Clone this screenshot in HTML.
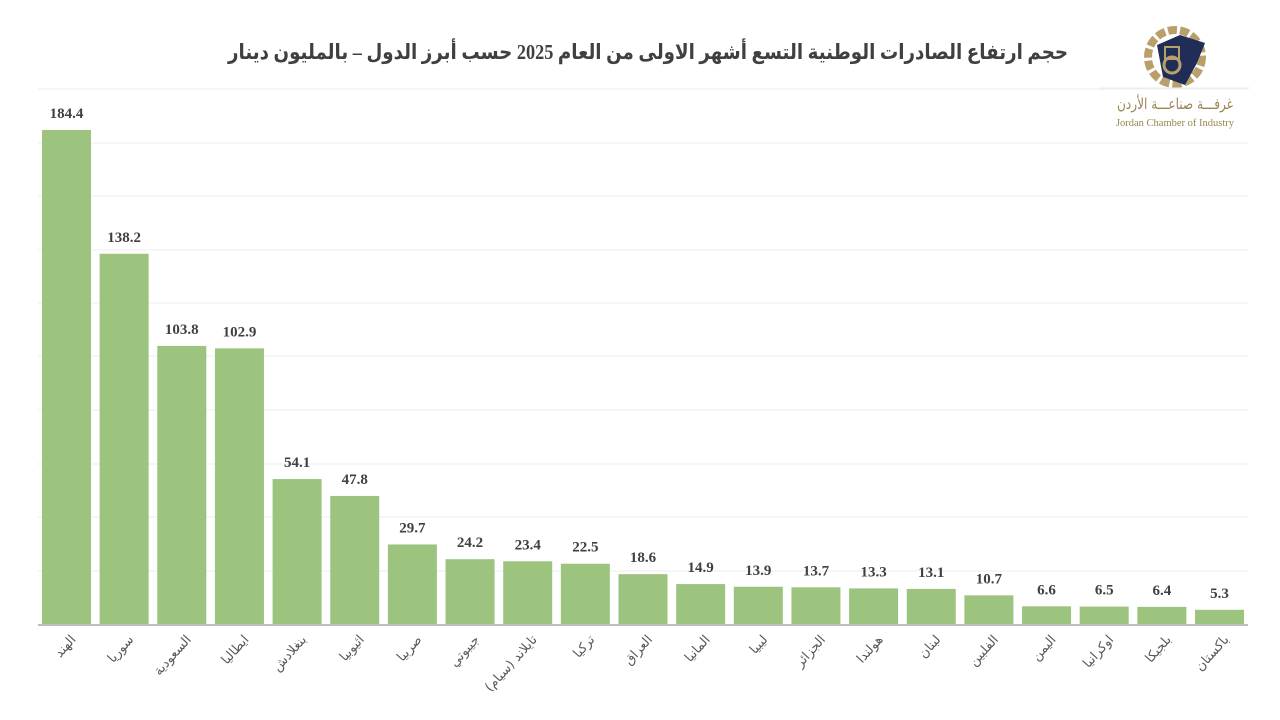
<!DOCTYPE html>
<html><head><meta charset="utf-8"><style>
body{margin:0;background:#fff;}
svg{display:block;}
</style></head><body>
<svg width="1280" height="720" xmlns="http://www.w3.org/2000/svg" font-family="'Liberation Serif','Noto Serif CJK SC',serif">
<rect width="1280" height="720" fill="#fff"/>
<text x="648" y="59" text-anchor="middle" font-size="21" font-weight="bold" fill="#404040" font-family="'Liberation Serif','DejaVu Sans',serif" direction="rtl" textLength="840" lengthAdjust="spacingAndGlyphs">حجم ارتفاع الصادرات الوطنية التسع أشهر الاولى من العام 2025 حسب أبرز الدول – بالمليون دينار</text>
<g stroke="#ececec" stroke-width="1">
<line x1="38" x2="1248" y1="89" y2="89"/><line x1="38" x2="1248" y1="143" y2="143"/><line x1="38" x2="1248" y1="196" y2="196"/><line x1="38" x2="1248" y1="250" y2="250"/><line x1="38" x2="1248" y1="303" y2="303"/><line x1="38" x2="1248" y1="356" y2="356"/><line x1="38" x2="1248" y1="410" y2="410"/><line x1="38" x2="1248" y1="464" y2="464"/><line x1="38" x2="1248" y1="517" y2="517"/><line x1="38" x2="1248" y1="571" y2="571"/>
</g>
<g id="bars"></g>
<line x1="38" x2="1248" y1="625" y2="625" stroke="#bfbfbf" stroke-width="2"/>
<g id="lbl"></g>
<g transform="translate(1175,57)">
<circle r="27" fill="none" stroke="#b9a06a" stroke-width="8" stroke-dasharray="9 3"/>
<path d="M-18,-12 L5,-22 L30,-14 L22,6 L10,28 L-12,20 Z" fill="#1f2d57"/>
<circle cx="-3" cy="8" r="8" fill="none" stroke="#b9a06a" stroke-width="3"/>
<rect x="-10" y="-10" width="14" height="12" fill="none" stroke="#b9a06a" stroke-width="2"/>
</g>
<line x1="1100" y1="88" x2="1250" y2="88" stroke="#eee"/>
<text x="1175" y="109" text-anchor="middle" font-size="15" fill="#9b8552" font-family="'DejaVu Sans',sans-serif" textLength="116" lengthAdjust="spacingAndGlyphs">غرفـــة صناعـــة الأردن</text>
<text x="1175" y="126" text-anchor="middle" font-size="10.5" fill="#9b8552">Jordan Chamber of Industry</text>
</svg>
<script>
var v=[184.4,138.2,103.8,102.9,54.1,47.8,29.7,24.2,23.4,22.5,18.6,14.9,13.9,13.7,13.3,13.1,10.7,6.6,6.5,6.4,5.3];
var n=["الهند","سوريا","السعودية","ايطاليا","بنغلادش","اثيوبيا","صربيا","جيبوتي","(تايلاند (سيام","تركيا","العراق","المانيا","ليبيا","الجزائر","هولندا","لبنان","الفلبين","اليمن","اوكرانيا","بلجيكا","باكستان"];
var ns="http://www.w3.org/2000/svg",b=document.getElementById("bars"),l=document.getElementById("lbl");
for(var i=0;i<v.length;i++){
 var x=42+i*57.65,h=v[i]*2.679,y=624-h;
 var r=document.createElementNS(ns,"rect");r.setAttribute("x",x);r.setAttribute("y",y);r.setAttribute("width",49);r.setAttribute("height",h);r.setAttribute("fill","#9dc47f");b.appendChild(r);
 var t=document.createElementNS(ns,"text");t.setAttribute("x",x+24.5);t.setAttribute("y",y-12);t.setAttribute("text-anchor","middle");t.setAttribute("font-size","15");t.setAttribute("font-weight","bold");t.setAttribute("fill","#404040");t.textContent=v[i].toFixed(1);b.appendChild(t);
 var c=x+24.5+10;
 var s=document.createElementNS(ns,"text");s.setAttribute("transform","translate("+c+",640) rotate(-48)");s.setAttribute("text-anchor","end");s.setAttribute("font-size","13");s.setAttribute("fill","#595959");s.setAttribute("font-family","'DejaVu Sans',sans-serif");s.textContent=n[i];l.appendChild(s);
}
</script>
</body></html>
